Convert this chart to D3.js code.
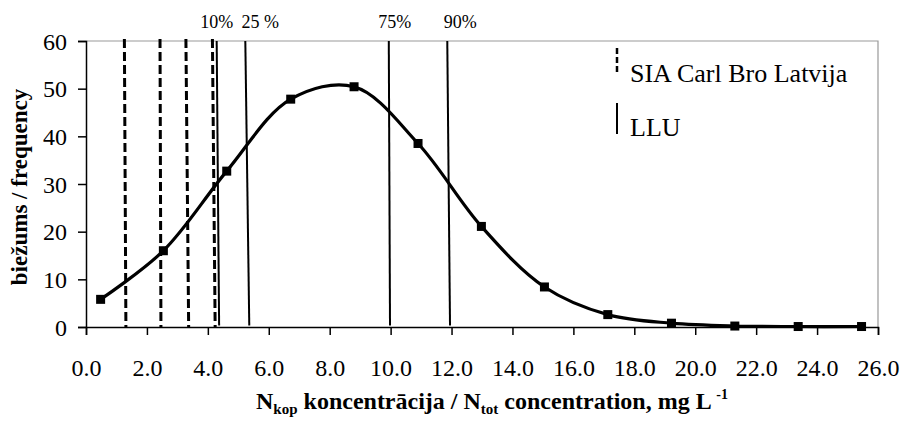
<!DOCTYPE html>
<html>
<head>
<meta charset="utf-8">
<script src="https://cdn.jsdelivr.net/npm/d3@7"></script>
<style>
  body { margin: 0; background: #fff; }
  svg { font-family: "Liberation Serif", "Times New Roman", serif; }
</style>
</head>
<body>
<svg id="chart" width="903" height="426"></svg>
<script>
// frequency distribution (bin centre, count)
var binX = [0.48, 2.54, 4.62, 6.72, 8.80, 10.9, 12.98, 15.05, 17.13, 19.22, 21.3, 23.38, 25.46];
var freq = [5.8, 16.0, 32.7, 47.8, 50.4, 38.5, 21.1, 8.4, 2.6, 0.8, 0.2, 0.1, 0.1];

// SIA Carl Bro Latvija class limits (top, bottom) - dashed
var siaTop = [1.26, 2.43, 3.28, 4.15];
var siaBottom = [1.31, 2.46, 3.37, 4.24];

// LLU percentiles - solid
var lluLabels = ["10%", "25 %", "75%", "90%"];
var lluTop = [4.29, 5.23, 9.94, 11.86];
var lluBottom = [4.37, 5.36, 9.98, 11.95];

var xTicks = [0, 2, 4, 6, 8, 10, 12, 14, 16, 18, 20, 22, 24, 26];
var yTicks = [0, 10, 20, 30, 40, 50, 60];

var svg = d3.select("#chart");
var margin = {top: 41, right: 25, bottom: 99, left: 86};
var width = 903 - margin.left - margin.right;
var height = 426 - margin.top - margin.bottom;

var x = d3.scaleLinear().domain([0, 26]).range([margin.left, margin.left + width]);
var y = d3.scaleLinear().domain([0, 60]).range([margin.top + height, margin.top]);

// plot border (top / right gray)
svg.append("path")
  .attr("d", "M" + x(0) + "," + y(60) + "H" + x(26) + "V" + y(0))
  .attr("fill", "none").attr("stroke", "#999").attr("stroke-width", 1.2);

// axes
var yAxis = svg.append("g")
  .attr("transform", "translate(" + x(0) + ",0)")
  .call(d3.axisLeft(y).tickValues(yTicks).tickSize(8).tickPadding(11).tickFormat(d3.format("d")));
var xAxis = svg.append("g")
  .attr("transform", "translate(0," + y(0) + ")")
  .call(d3.axisBottom(x).tickValues(xTicks).tickSize(8).tickPadding(24).tickFormat(d3.format(".1f")));

[yAxis, xAxis].forEach(function(a){
  a.select(".domain").attr("stroke", "#000").attr("stroke-width", 1.5);
  a.selectAll(".tick line").attr("stroke", "#000").attr("stroke-width", 1.5);
  a.selectAll("text").attr("fill", "#000").style("font-family", "Liberation Serif").style("font-size", "24px");
});
yAxis.selectAll("text").attr("dy", "0.34em");

// dashed lines
svg.append("g").selectAll("line")
  .data(siaTop).enter().append("line")
  .attr("x1", d => x(d)).attr("y1", y(60.4))
  .attr("x2", (d, i) => x(siaBottom[i])).attr("y2", y(0))
  .attr("stroke", "#000").attr("stroke-width", 3)
  .attr("stroke-dasharray", "9,4");

// solid lines
svg.append("g").selectAll("line")
  .data(lluTop).enter().append("line")
  .attr("x1", d => x(d)).attr("y1", y(60))
  .attr("x2", (d, i) => x(lluBottom[i])).attr("y2", y(0.3))
  .attr("stroke", "#000").attr("stroke-width", 2);

var lblShift = [0, 15, 6, 13];
svg.append("g").selectAll("text")
  .data(lluLabels).enter().append("text")
  .attr("x", (d, i) => x(lluTop[i]) + lblShift[i])
  .attr("y", 28)
  .attr("text-anchor", "middle")
  .style("font-size", "18px")
  .text(d => d);

// frequency curve
var pts = binX.map((d, i) => [d, freq[i]]);
var line = d3.line()
  .x(d => x(d[0])).y(d => y(d[1]))
  .curve(d3.curveCatmullRom.alpha(0.5));
svg.append("path")
  .datum(pts)
  .attr("d", line)
  .attr("fill", "none").attr("stroke", "#000").attr("stroke-width", 3.2);

svg.append("g").selectAll("rect")
  .data(pts).enter().append("rect")
  .attr("x", d => x(d[0]) - 4.5).attr("y", d => y(d[1]) - 4.5)
  .attr("width", 9).attr("height", 9)
  .attr("fill", "#000");

// legend
var leg = svg.append("g");
leg.append("line")
  .attr("x1", 617).attr("x2", 617).attr("y1", 48).attr("y2", 74)
  .attr("stroke", "#000").attr("stroke-width", 2.5).attr("stroke-dasharray", "6,3");
leg.append("text").attr("x", 630).attr("y", 82).style("font-size", "26px").text("SIA Carl Bro Latvija");
leg.append("line")
  .attr("x1", 617).attr("x2", 617).attr("y1", 103).attr("y2", 134)
  .attr("stroke", "#000").attr("stroke-width", 2);
leg.append("text").attr("x", 630).attr("y", 136).style("font-size", "26px").text("LLU");

// axis titles
svg.append("text")
  .attr("transform", "translate(27,187) rotate(-90)")
  .attr("text-anchor", "middle")
  .style("font-size", "23px").style("font-weight", "bold")
  .text("biežums / frequency");

var xt = svg.append("text")
  .attr("x", 492).attr("y", 409)
  .attr("text-anchor", "middle")
  .style("font-size", "24px").style("font-weight", "bold");
xt.append("tspan").text("N");
xt.append("tspan").attr("dy", 5).style("font-size", "15px").text("kop");
xt.append("tspan").attr("dy", -5).text(" koncentrācija / N");
xt.append("tspan").attr("dy", 5).style("font-size", "15px").text("tot");
xt.append("tspan").attr("dy", -5).text(" concentration, mg L ");
xt.append("tspan").attr("dy", -10).style("font-size", "14px").text("-1");
</script>
</body>
</html>
